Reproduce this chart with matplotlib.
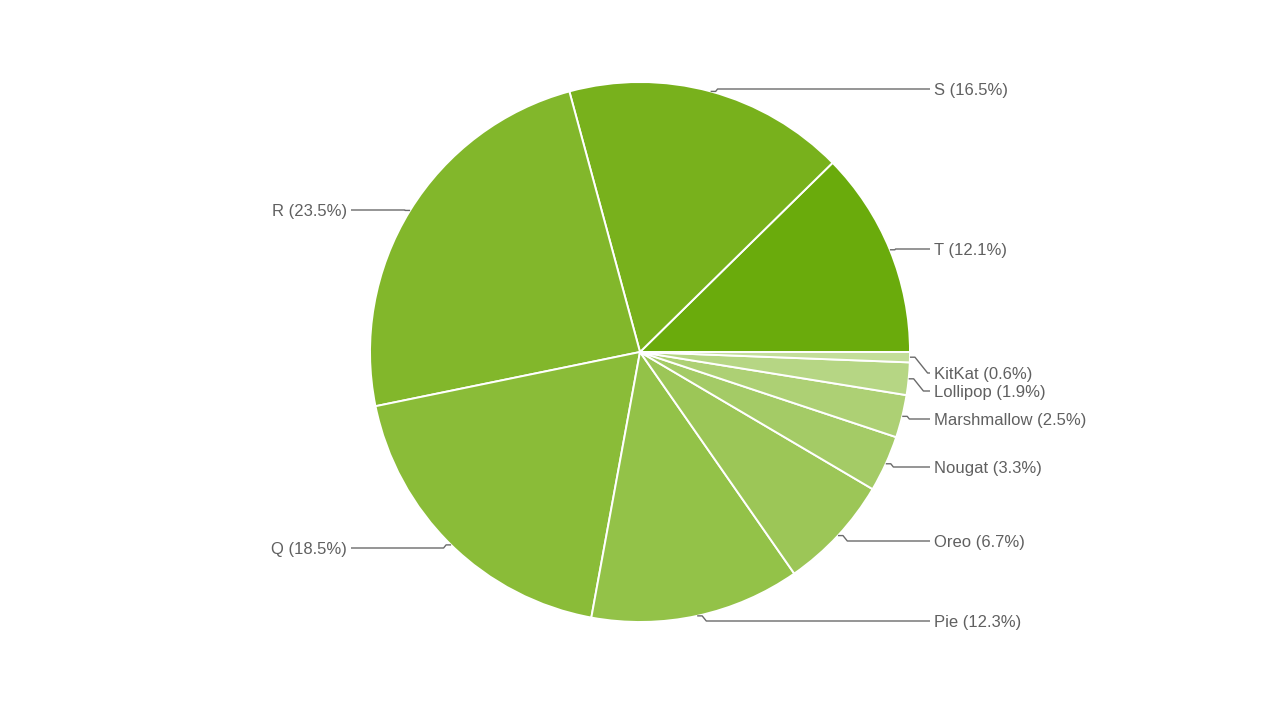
import matplotlib
matplotlib.use("Agg")
import matplotlib.pyplot as plt
import numpy as np

# Android version distribution
versions = ["T", "S", "R", "Q", "Pie", "Oreo", "Nougat", "Marshmallow", "Lollipop", "KitKat"]
shares = [12.1, 16.5, 23.5, 18.5, 12.3, 6.7, 3.3, 2.5, 1.9, 0.6]
colors = ["#6aab0c", "#78b11c", "#82b72b", "#8abc38", "#93c248",
          "#9cc657", "#a4cb66", "#add074", "#b6d684", "#c3de99"]
# vertical position of each label (pixels from the top)
label_y = [249, 89, 210, 548, 621, 541, 467, 419, 391, 373]

W, H = 1280, 720
fig = plt.figure(figsize=(W / 100, H / 100), dpi=100)
ax = fig.add_axes([0, 0, 1, 1])

cx, cy, r = 640, H - 352, 270
wedges, _ = ax.pie(shares, colors=colors, startangle=0, counterclock=True,
                   radius=r, center=(cx, cy), frame=True,
                   wedgeprops=dict(edgecolor="white", linewidth=1.4))
ax.set_xlim(0, W)
ax.set_ylim(0, H)
ax.set_aspect("equal")
ax.axis("off")

line_col = "#6b6b6b"
text_col = "#606060"
for w, name, val, ly in zip(wedges, versions, shares, label_y):
    ang = np.deg2rad((w.theta1 + w.theta2) / 2)
    ex, ey = cx + r * np.cos(ang), cy + r * np.sin(ang)
    ty = H - ly
    right = np.cos(ang) >= 0
    s = 1 if right else -1
    dy = abs(ty - ey)
    p1x = ex + s * 5
    p2x = p1x + s * min(dy * 0.8, 14)
    end_x = 930 if right else 351
    ax.plot([ex, p1x, p2x, end_x], [ey, ey, ty, ty], color=line_col,
            lw=1.0, solid_capstyle="butt")
    tx = end_x + 4 * s
    ax.text(tx, ty - 1.5, f"{name} ({val}%)", ha="left" if right else "right",
            va="center", fontsize=12, color=text_col, family="Liberation Sans")

fig.savefig("out.png", dpi=100, facecolor="white")
